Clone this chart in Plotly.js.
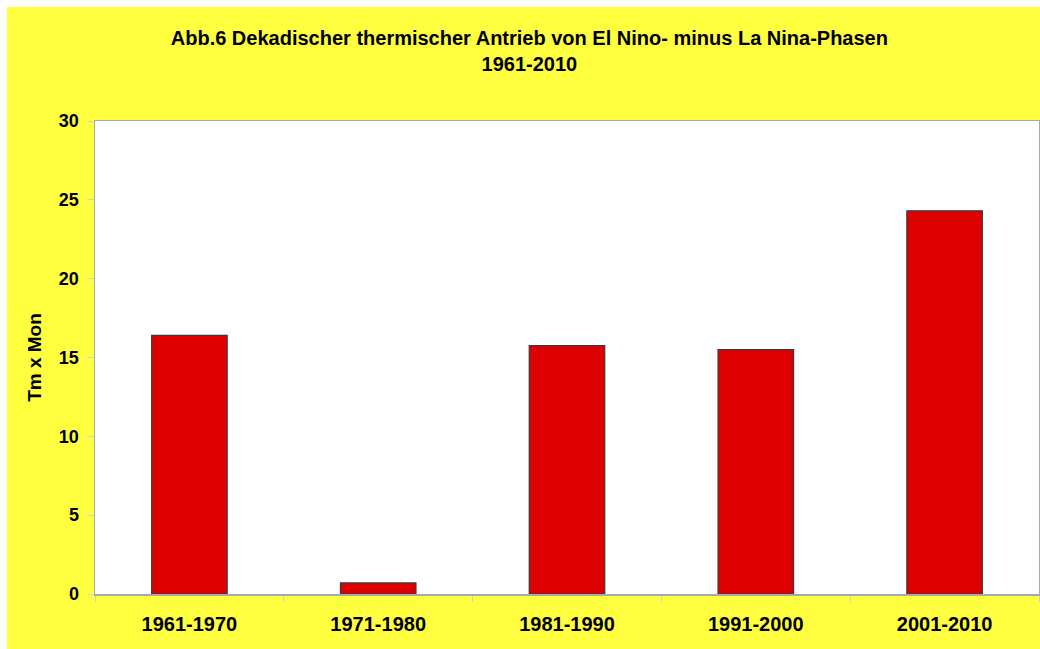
<!DOCTYPE html>
<html>
<head>
<meta charset="utf-8">
<script src="https://cdn.plot.ly/plotly-3.0.1.min.js"></script>
<style>html,body{margin:0;padding:0;background:#fff;}#chart{width:1040px;height:649px;}</style>
</head>
<body>
<div id="chart"></div>
<script>
const decades = ["1961-1970", "1971-1980", "1981-1990", "1991-2000", "2001-2010"];
const values = [16.4, 0.7, 15.75, 15.5, 24.3];
const yTicks = [0, 5, 10, 15, 20, 25, 30];

const font = "Liberation Sans, Arial, sans-serif";

const trace = {
  type: "bar",
  x: decades,
  y: values,
  marker: { color: "#DD0000", line: { color: "#3a3a3a", width: 1.2 } },
  hoverinfo: "x+y"
};

const layout = {
  width: 1040,
  height: 649,
  margin: { l: 95, r: 1, t: 121, b: 55, pad: 0 },
  paper_bgcolor: "#ffffff",
  plot_bgcolor: "rgba(0,0,0,0)",
  bargap: 0.6,
  showlegend: false,
  font: { family: font, color: "#000", size: 18 },
  title: {
    text: "<b>Abb.6 Dekadischer thermischer Antrieb von El Nino- minus La Nina-Phasen<br>1961-2010</b>",
    font: { family: font, size: 20, color: "#000" },
    xref: "container", x: 0.509, xanchor: "center",
    yref: "container", y: 1 - 45 / 649, yanchor: "top"
  },
  shapes: [
    { type: "rect", xref: "paper", yref: "paper", x0: -0.0932, x1: 1.1, y0: -0.3, y1: 1.241,
      fillcolor: "#FFFF40", line: { width: 0 }, layer: "below" },
    { type: "rect", xref: "paper", yref: "paper", x0: 0, x1: 1, y0: 0, y1: 1,
      fillcolor: "#ffffff", line: { width: 0 }, layer: "below" }
  ],
  xaxis: {
    type: "category",
    showline: true, linecolor: "#a8a8a8", linewidth: 1.5, mirror: true,
    ticks: "outside", tickson: "boundaries", ticklen: 6, tickcolor: "#d0d0d0", tickwidth: 1,
    ticklabelstandoff: 11,
    tickfont: { family: font, size: 20, color: "#000", weight: "bold" },
    showgrid: false, zeroline: false, fixedrange: true
  },
  yaxis: {
    range: [0, 30],
    tickvals: yTicks,
    ticktext: yTicks.map(String),
    showline: true, linecolor: "#a8a8a8", linewidth: 1.5, mirror: true,
    ticks: "outside", ticklen: 7, tickcolor: "#d0d0d0", tickwidth: 1,
    ticklabelstandoff: 4,
    tickfont: { family: font, size: 18, color: "#000", weight: "bold" },
    showgrid: false, zeroline: false, fixedrange: true,
    title: { text: "<b>Tm x Mon</b>", font: { family: font, size: 19, color: "#000" }, standoff: 12 }
  }
};

Plotly.newPlot("chart", [trace], layout, { displayModeBar: false, staticPlot: true });
</script>
</body>
</html>
